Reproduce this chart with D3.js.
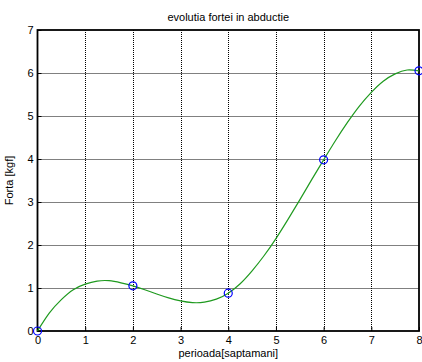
<!DOCTYPE html>
<html lang="en">
<head>
  <meta charset="UTF-8">
  <title>evolutia fortei in abductie</title>
  <script src="https://cdn.jsdelivr.net/npm/d3@7"></script>
</head>
<style>
  body { margin: 0; background: #fff; }
  svg { display: block; }
  text { font-family: "Liberation Sans", Arial, sans-serif; fill: #000; }
</style>
<body>
<svg width="422" height="362"></svg>
<script>
  // masuratori (cercuri albastre)
  const weeks = [0, 2, 4, 6, 8];
  const force = [0, 1.05, 0.88, 3.98, 6.05];

  // curba verde
  const curveX = [0, 0.25, 0.5, 0.75, 1, 1.25, 1.5, 1.75, 2, 2.25, 2.5, 2.75, 3, 3.25, 3.5, 3.75, 4,
                  4.25, 4.5, 4.75, 5, 5.25, 5.5, 5.75, 6, 6.25, 6.5, 6.75, 7, 7.25, 7.5, 7.75, 8];
  const curveY = [0, 0.42, 0.73, 0.96, 1.09, 1.16, 1.17, 1.12, 1.05, 0.96, 0.86, 0.77, 0.70, 0.66, 0.67, 0.74, 0.88,
                  1.10, 1.40, 1.75, 2.15, 2.59, 3.05, 3.52, 3.98, 4.43, 4.85, 5.23, 5.55, 5.81, 5.98, 6.07, 6.05];

  const xTicks = [0, 1, 2, 3, 4, 5, 6, 7, 8];
  const yTicks = [0, 1, 2, 3, 4, 5, 6, 7];

  const svg = d3.select('svg');
  const pLeft = 37.5, pRight = 419, pTop = 30, pBottom = 331;

  const x = d3.scaleLinear().domain([0, 8]).range([pLeft, pRight]);
  const y = d3.scaleLinear().domain([0, 7]).range([pBottom, pTop]);

  // grid
  const grid = svg.append('g')
    .attr('stroke', '#000')
    .attr('stroke-width', 1)
    .attr('stroke-dasharray', '1,1');
  grid.selectAll('line.gx').data(xTicks.slice(1, -1)).enter().append('line')
    .attr('x1', d => Math.round(x(d)) + 0.5).attr('x2', d => Math.round(x(d)) + 0.5)
    .attr('y1', pTop).attr('y2', pBottom);
  grid.selectAll('line.gy').data(yTicks.slice(1, -1)).enter().append('line')
    .attr('y1', d => Math.round(y(d)) + 0.5).attr('y2', d => Math.round(y(d)) + 0.5)
    .attr('x1', pLeft).attr('x2', pRight);

  // axes
  const xAxis = d3.axisBottom(x).tickValues(xTicks).tickFormat(d3.format('d')).tickSize(-4).tickPadding(6);
  const yAxis = d3.axisLeft(y).tickValues(yTicks).tickFormat(d3.format('d')).tickSize(-4).tickPadding(6);

  const gx = svg.append('g').attr('transform', `translate(0,${pBottom})`).call(xAxis);
  const gy = svg.append('g').attr('transform', `translate(${pLeft},0)`).call(yAxis);
  [gx, gy].forEach(g => {
    g.select('.domain').remove();
    g.selectAll('text').style('font-size', '11px').style('font-family', '"Liberation Sans", Arial, sans-serif');
    g.selectAll('line').attr('stroke', '#000');
  });
  gx.selectAll('text').attr('dy', '0.62em');
  gy.selectAll('text').attr('dx', '2px');

  // frame
  svg.append('rect')
    .attr('x', pLeft).attr('y', pTop)
    .attr('width', pRight - pLeft).attr('height', pBottom - pTop)
    .attr('fill', 'none').attr('stroke', '#000').attr('stroke-width', 1.8);

  // curve
  const line = d3.line()
    .x((d, i) => x(curveX[i]))
    .y(d => y(d))
    .curve(d3.curveNatural);
  svg.append('path')
    .datum(curveY)
    .attr('d', line)
    .attr('fill', 'none')
    .attr('stroke', '#1f9a1f')
    .attr('stroke-width', 1.2);

  // points
  svg.selectAll('circle').data(weeks).enter().append('circle')
    .attr('cx', d => x(d))
    .attr('cy', (d, i) => y(force[i]))
    .attr('r', 4)
    .attr('fill', 'none')
    .attr('stroke', '#0000ff')
    .attr('stroke-width', 1.2);

  // labels
  svg.append('text')
    .attr('x', (pLeft + pRight) / 2).attr('y', 21)
    .attr('text-anchor', 'middle')
    .style('font-size', '11px')
    .text('evolutia fortei in abductie');

  svg.append('text')
    .attr('x', (pLeft + pRight) / 2).attr('y', 357)
    .attr('text-anchor', 'middle')
    .style('font-size', '11px')
    .text('perioada[saptamani]');

  svg.append('text')
    .attr('transform', `translate(13,${(pTop + pBottom) / 2}) rotate(-90)`)
    .attr('text-anchor', 'middle')
    .style('font-size', '11px')
    .text('Forta [kgf]');
</script>
</body>
</html>
